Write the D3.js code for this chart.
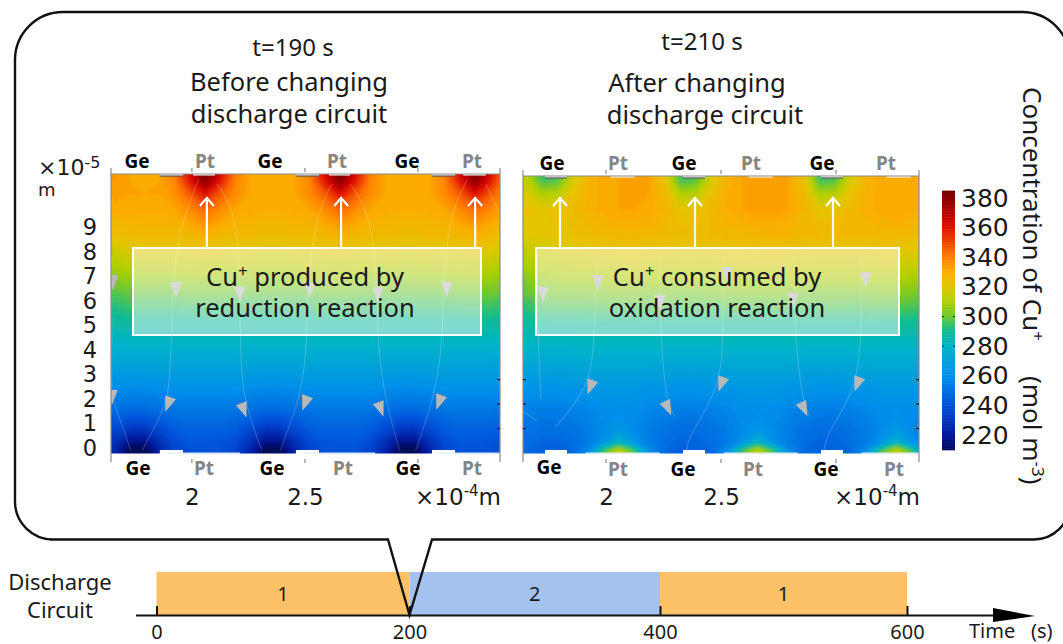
<!DOCTYPE html>
<html>
<head>
<meta charset="utf-8">
<script src="https://cdn.jsdelivr.net/npm/d3@7"></script>
<style>
  body { margin: 0; background: #fff; }
  text { fill: #1a1a1a; }
</style>
</head>
<body>
<script>
// concentration, mol m-3, one row per depth, 27 columns
const rowDepth = [11.55, 11.06, 10.57, 9.92, 8.9, 7.67, 6.45, 5.22, 4, 2.78, 1.76, 1.02, 0.45, 0.12, -0.12]

const leftField = [
  [334,332,331,332,339,365,385,365,340,332,330,330,332,340,365,385,365,340,332,330,330,332,340,365,385,365,340],
  [334,332,331,332,338,358,378,358,338,332,331,331,332,338,358,378,358,338,332,331,331,332,338,358,378,358,338],
  [333,332,332,332,336,346,360,346,337,332,331,331,332,337,346,360,346,337,332,331,331,332,337,346,360,346,337],
  [331,331,331,331,332,337,343,337,332,331,330,330,331,332,337,343,337,332,331,330,330,331,332,337,343,337,332],
  [324,325,326,326,326,327,329,327,326,326,325,325,326,326,327,329,327,326,326,325,325,326,326,327,329,327,324],
  [310,312,313,313,313,313,314,313,313,313,312,312,313,313,313,314,313,313,313,312,312,313,313,313,314,313,310],
  [296,298,298,298,298,299,299,299,298,298,298,298,298,298,299,299,299,298,298,298,298,298,298,299,299,299,297],
  [286,287,287,287,287,287,287,287,287,287,287,287,287,287,287,287,287,287,287,287,287,287,287,287,287,287,286],
  [275,275,275,275,275,275,275,275,275,275,275,275,275,275,275,275,275,275,275,275,275,275,275,275,275,275,275],
  [261,260,260,261,262,262,262,262,262,261,260,260,261,262,262,262,262,262,261,260,260,261,262,262,262,262,261],
  [249,248,248,250,251,252,252,252,251,249,248,248,249,251,252,252,252,251,249,248,248,249,251,252,252,252,250],
  [238,232,232,238,244,246,246,246,244,238,232,232,238,244,246,246,246,244,238,232,232,238,244,246,246,246,244],
  [228,216,216,228,238,242,242,241,238,228,216,216,228,238,241,242,242,238,228,216,216,228,238,242,242,241,240],
  [224,208,208,224,236,240,240,240,236,224,208,208,224,236,240,240,240,236,224,208,208,224,236,240,240,240,238],
  [224,208,208,224,236,240,240,240,236,224,208,208,224,236,240,240,240,236,224,208,208,224,236,240,240,240,238]
]

const rightField = [
  [312,290,292,316,327,331,332,333,332,322,290,293,318,328,332,333,333,332,323,290,292,317,328,331,332,331,330],
  [314,296,298,318,328,331,332,333,332,323,296,299,319,329,332,333,333,332,324,296,298,318,328,331,332,331,330],
  [319,310,312,322,329,331,332,333,332,326,310,312,323,330,332,333,333,332,326,310,312,322,329,331,332,331,330],
  [323,322,323,326,329,331,332,332,331,328,322,323,327,330,332,333,333,332,328,322,323,326,329,331,332,331,329],
  [320,321,322,323,325,326,327,327,327,326,325,325,326,327,327,328,328,328,327,326,326,326,326,327,327,326,324],
  [309,311,313,314,315,315,316,316,315,315,315,315,315,316,316,316,316,316,315,315,315,315,315,316,316,315,312],
  [298,300,301,301,301,302,302,302,301,301,301,301,301,302,302,302,302,302,301,301,301,301,301,302,302,301,299],
  [287,288,288,288,288,288,288,288,288,288,288,288,288,288,288,288,288,288,288,288,288,288,288,288,288,288,288],
  [276,276,276,276,277,277,277,277,277,276,276,276,276,277,277,277,277,277,276,276,276,276,277,277,277,277,276],
  [263,263,263,264,264,265,265,265,264,264,263,263,264,264,265,265,265,264,264,263,263,264,264,265,265,265,264],
  [255,254,254,255,257,259,260,259,257,255,254,254,255,257,259,260,259,257,255,254,254,255,257,259,260,259,257],
  [251,250,250,251,254,258,263,258,254,251,249,249,251,254,258,263,258,254,251,249,249,251,254,258,263,258,254],
  [249,247,247,249,253,262,280,262,253,249,247,247,249,253,262,280,262,253,249,247,247,249,253,262,280,262,253],
  [248,245,245,248,258,292,312,292,258,248,245,245,248,258,292,312,292,258,248,245,245,248,258,292,312,292,258],
  [248,245,245,248,258,300,318,300,258,248,245,245,248,258,300,318,300,258,248,245,245,248,258,300,318,300,258]
]

// colour ramp of the bar
const rampValues = [205, 220, 240, 260, 280, 290, 300, 310, 320, 330, 340, 360, 370, 385]
const rampColors = ['#00003c', '#001a9e', '#0050d8', '#0090ea', '#00b4c8', '#10bc90', '#70c830', '#b0d000', '#e0c800', '#fab000', '#ff7c00', '#e01000', '#b80000', '#6e0000']
const barTicks = [220, 240, 260, 280, 300, 320, 340, 360, 380]

// streamlines and arrow heads, in axis units
const leftStreams = [
  [[1.645, 8], [1.645, 2.5]],
  [[1.65, 2.2], [1.73, 0.1]],
  [[2.03, 11.2], [1.98, 10], [1.92, 8.2], [1.91, 4.7], [1.9, 2.9], [1.89, 2], [1.78, 0.1]],
  [[2.11, 11], [2.2, 9.8], [2.21, 6.8], [2.215, 4.7], [2.22, 2.3], [2.31, 0.1]],
  [[2.62, 11], [2.55, 9.8], [2.51, 6.8], [2.51, 4.7], [2.49, 2.5], [2.39, 0.1]],
  [[2.7, 11], [2.79, 9.8], [2.82, 6.8], [2.82, 4.7], [2.85, 2.3], [2.92, 0.1]],
  [[3.22, 11.2], [3.14, 9.8], [3.11, 6.8], [3.11, 4.7], [3.08, 2.5], [2.99, 0.1]],
  [[3.3, 11], [3.36, 9.8]]
]
const leftHeads = [
  [1.646, 2.37, 180], [1.898, 2.08, 200], [2.226, 1.84, 160], [2.504, 2.12, 200], [2.832, 1.88, 160], [3.097, 2.16, 200],
  [1.65, 7.06, 180], [1.93, 6.78, 180], [2.212, 6.57, 180], [2.522, 6.78, 180], [2.823, 6.57, 180], [3.128, 6.78, 180]
]
const rightStreams = [
  [[1.7, 8], [1.704, 4.7], [1.717, 2.2]],
  [[1.64, 1.7], [1.7, 1.3]],
  [[1.96, 8], [1.95, 4.7], [1.93, 2.7], [1.78, 1.06]],
  [[2.235, 8], [2.235, 4.7], [2.265, 2], [2.3, 1.5]],
  [[2.51, 8], [2.51, 4.7], [2.495, 2.6], [2.35, 0.55], [2.35, 0]],
  [[2.82, 8], [2.82, 4.7], [2.857, 2], [2.887, 1.5]],
  [[3.11, 8], [3.11, 4.7], [3.09, 2.6], [2.95, 0.65], [2.95, 0]]
]
const rightHeads = [
  [1.935, 2.78, 200], [2.265, 1.92, 155], [2.504, 2.9, 200], [2.857, 1.88, 155], [3.096, 2.9, 200],
  [1.726, 6.57, 180], [1.965, 7.06, 180], [2.235, 6.24, 180], [2.526, 7.39, 180], [2.813, 6.33, 180], [3.13, 7.18, 180]
]

const yTicks = [0, 1, 2, 3, 4, 5, 6, 7, 8, 9]
const xTicks = [2, 2.5, 3]
const xTickLabels = ['2', '2.5', '']

// discharge timeline
const timeTicks = [0, 200, 400, 600]
const circuitStart = [0, 200, 400]
const circuitEnd = [200, 400, 600]
const circuitName = ['1', '2', '1']
const circuitColor = ['#fdc268', '#a4c2f0', '#fdc268']

const sans = '"Noto Sans", "Open Sans", sans-serif'
const plain = '"DejaVu Sans", sans-serif'

const svg = d3.select('body').append('svg')
  .attr('width', 1063)
  .attr('height', 644)
  .style('display', 'block')

const defs = svg.append('defs')
defs.append('filter').attr('id', 'soft')
  .attr('x', '-5%').attr('y', '-5%').attr('width', '110%').attr('height', '110%')
  .append('feGaussianBlur').attr('stdDeviation', 1.6)

const color = d3.scaleLinear().domain(rampValues).range(rampColors).clamp(true)

const drawPanel = (p) => {
  const x = d3.scaleLinear().domain(p.xDomain).range([p.left, p.right])
  const y = d3.scaleLinear().domain([0, 11.4]).range([453, 174])

  const clipId = 'clip-' + p.name
  defs.append('clipPath').attr('id', clipId)
    .append('rect')
      .attr('x', p.left).attr('y', p.top)
      .attr('width', p.right - p.left).attr('height', 453.5 - p.top)

  const cols = p.field[0].length
  const gx = d3.scaleLinear().domain([0, cols]).range([p.gridLeft, p.gridLeft + cols * p.gridStep])
  const gy = d3.scaleLinear()
    .domain(rowDepth.map((d, j) => j + 0.5))
    .range(rowDepth.map(d => y(d)))

  const path = d3.geoPath(d3.geoTransform({
    point(a, b) { this.stream.point(gx(a), gy(b)) }
  }))

  const bands = d3.contours()
    .size([cols, rowDepth.length])
    .thresholds(d3.range(200, 388, 2))(p.field.flat())

  const map = svg.append('g').attr('clip-path', `url(#${clipId})`)
  const field = map.append('g').attr('filter', 'url(#soft)')
  field.selectAll('path')
    .data(bands)
    .join('path')
      .attr('d', path)
      .attr('fill', d => color(d.value + 1))
      .attr('stroke', d => color(d.value + 1))
      .attr('stroke-width', 0.6)

  // streamlines
  const line = d3.line().x(d => x(d[0])).y(d => y(d[1])).curve(d3.curveBasis)
  map.append('g').selectAll('path')
    .data(p.streams)
    .join('path')
      .attr('d', line)
      .attr('fill', 'none')
      .attr('stroke', '#fff')
      .attr('stroke-opacity', 0.18)
      .attr('stroke-width', 1.2)

  const head = d3.symbol(d3.symbolTriangle, 80)
  map.append('g').selectAll('path')
    .data(p.heads)
    .join('path')
      .attr('d', head)
      .attr('transform', d => `translate(${x(d[0])},${y(d[1])}) rotate(${d[2]}) scale(0.85,1.3)`)
      .attr('fill', '#b9b9b9')

  // electrodes along both edges
  p.geTop.forEach(g => {
    svg.append('rect').attr('x', x(g[0])).attr('y', p.top - 1).attr('width', x(g[1]) - x(g[0])).attr('height', 3).attr('fill', '#fff')
    svg.append('line').attr('x1', x(g[0])).attr('x2', x(g[1])).attr('y1', p.top + 2).attr('y2', p.top + 2).attr('stroke', '#555').attr('stroke-width', 1.2)
  })
  svg.selectAll(null)
    .data(p.ptTop)
    .join('rect')
      .attr('x', d => x(d[0])).attr('y', p.top).attr('width', d => x(d[1]) - x(d[0])).attr('height', 1.5)
      .attr('fill', '#fff')
  svg.selectAll(null)
    .data(p.geTop)
    .join('rect')
      .attr('x', d => x(d[0])).attr('y', 450).attr('width', d => x(d[1]) - x(d[0])).attr('height', 4)
      .attr('fill', '#fff')
  svg.selectAll(null)
    .data(p.ptTop)
    .join('rect')
      .attr('x', d => x(d[0]) - 25).attr('y', 452.5)
      .attr('width', d => Math.min(x(d[1]) + 25, p.right) - x(d[0]) + 25).attr('height', 1.3)
      .attr('fill', '#e9eefc')

  // frame
  const frame = svg.append('g').attr('fill', 'none').attr('stroke', '#8a8a8a').attr('stroke-width', 1.2)
  frame.append('line').attr('x1', p.left).attr('x2', p.right).attr('y1', p.top).attr('y2', p.top)
  frame.append('line').attr('x1', p.left).attr('x2', p.left).attr('y1', p.top - 6).attr('y2', 462)
  frame.append('line').attr('x1', p.right).attr('x2', p.right).attr('y1', p.top - 6).attr('y2', 462)
  frame.selectAll('.tt').data(xTicks).join('line').attr('class', 'tt')
    .attr('x1', d => x(d)).attr('x2', d => x(d)).attr('y1', p.top - 6).attr('y2', p.top - 2)
  frame.selectAll('.tb').data(xTicks).join('line').attr('class', 'tb')
    .attr('x1', d => x(d)).attr('x2', d => x(d)).attr('y1', 459).attr('y2', 463)

  // small ticks near the bottom of the map
  p.tickEdges.forEach(edge => {
    svg.append('g').selectAll('line')
      .data([1, 2, 3])
      .join('line')
        .attr('x1', edge === 'l' ? p.left : p.right - 3)
        .attr('x2', edge === 'l' ? p.left + 3 : p.right)
        .attr('y1', d => y(d)).attr('y2', d => y(d))
        .attr('stroke', '#222').attr('stroke-width', 1.3)
  })

  // x axis labels
  const xAxis = d3.axisBottom(x).tickValues(xTicks).tickSize(0).tickFormat((d, i) => xTickLabels[i])
  const xg = svg.append('g').attr('transform', 'translate(0,486)').call(xAxis)
  xg.select('.domain').remove()
  xg.selectAll('text').attr('font-family', plain).attr('font-size', 23).attr('fill', '#333')

  svg.append('text')
    .attr('x', p.right + 1).attr('y', 505)
    .attr('text-anchor', 'end')
    .attr('font-family', plain).attr('font-size', 23).attr('fill', '#333')
    .html('×10<tspan dy="-9" font-size="15">-4</tspan><tspan dy="9">m</tspan>')

  // Ge / Pt
  p.labels.forEach(l => {
    svg.append('text')
      .attr('x', l[1]).attr('y', l[2])
      .attr('text-anchor', 'middle')
      .attr('font-family', sans).attr('font-weight', 'bold').attr('font-size', 19)
      .style('fill', l[0] === 'Ge' ? '#000' : '#858585')
      .text(l[0])
  })

  // arrows up to the electrodes
  p.upArrows.forEach(a => {
    const ax = x(a)
    svg.append('path')
      .attr('d', `M${ax},248V199M${ax - 7},206L${ax},198L${ax + 7},206`)
      .attr('fill', 'none').attr('stroke', '#fff').attr('stroke-width', 2.2)
  })

  // note box
  svg.append('rect')
    .attr('x', p.box[0]).attr('y', 248).attr('width', p.box[1] - p.box[0]).attr('height', 87)
    .attr('fill', '#fff').attr('fill-opacity', 0.48)
    .attr('stroke', '#fff').attr('stroke-width', 2)
  svg.append('text').attr('x', p.noteX).attr('y', 286)
    .attr('text-anchor', 'middle').attr('font-family', sans).attr('font-size', 25.5)
    .html(`Cu<tspan dy="-9" font-size="17">+</tspan><tspan dy="9"> ${p.note[0]}</tspan>`)
  svg.append('text').attr('x', p.noteX).attr('y', 317)
    .attr('text-anchor', 'middle').attr('font-family', sans).attr('font-size', 25.5)
    .text(p.note[1])

  // titles
  p.titles.forEach(t => {
    svg.append('text').attr('x', t[1]).attr('y', t[2])
      .attr('text-anchor', 'middle').attr('font-family', sans).attr('font-size', t[3])
      .text(t[0])
  })
}

drawPanel({
  name: 'left',
  field: leftField,
  streams: leftStreams,
  heads: leftHeads,
  xDomain: [1.642, 3.363],
  left: 111, right: 500, top: 174,
  gridLeft: 107.5, gridStep: 15,
  geTop: [[1.858, 1.96], [2.46, 2.562], [3.062, 3.164]],
  ptTop: [[2.005, 2.102], [2.606, 2.7], [3.2, 3.3]],
  tickEdges: ['r'],
  upArrows: [2.066, 2.66, 3.253],
  box: [133, 481],
  noteX: 305,
  note: ['produced by', 'reduction reaction'],
  titles: [['t=190 s', 293, 56, 24], ['Before changing', 289, 91, 25.5], ['discharge circuit', 289, 123, 25.5]],
  labels: [['Ge', 137, 168], ['Pt', 205, 168], ['Ge', 270, 168], ['Pt', 337, 168], ['Ge', 407, 168], ['Pt', 472, 168],
           ['Ge', 138, 475], ['Pt', 204, 475], ['Ge', 272, 475], ['Pt', 343, 475], ['Ge', 408, 475], ['Pt', 472, 475]]
})

drawPanel({
  name: 'right',
  field: rightField,
  streams: rightStreams,
  heads: rightHeads,
  xDomain: [1.639, 3.361],
  left: 523, right: 919, top: 176,
  gridLeft: 519, gridStep: 15.4,
  geTop: [[1.735, 1.83], [2.335, 2.43], [2.935, 3.03]],
  ptTop: [[2.02, 2.125], [2.62, 2.725], [3.22, 3.325]],
  tickEdges: ['l', 'r'],
  upArrows: [1.8, 2.387, 2.987],
  box: [536, 899],
  noteX: 717,
  note: ['consumed by', 'oxidation reaction'],
  titles: [['t=210 s', 702, 50, 24], ['After changing', 697, 92, 25.5], ['discharge circuit', 705, 124, 25.5]],
  labels: [['Ge', 552, 170], ['Pt', 618, 170], ['Ge', 684, 170], ['Pt', 751, 170], ['Ge', 822, 170], ['Pt', 886, 170],
           ['Ge', 549, 474], ['Pt', 618, 476], ['Ge', 683, 476], ['Pt', 753, 476], ['Ge', 826, 476], ['Pt', 894, 476]]
})

// y axis of the left map, labels sit a little above their ticks
const yLeft = d3.scaleLinear().domain([0, 11.4]).range([453, 174])
const yg = svg.append('g').attr('transform', 'translate(104,-5)')
  .call(d3.axisLeft(yLeft).tickValues(yTicks).tickSize(0).tickPadding(7))
yg.select('.domain').remove()
yg.selectAll('text').attr('font-family', plain).attr('font-size', 22.5).attr('fill', '#333')

svg.append('text').attr('x', 38).attr('y', 175)
  .attr('font-family', plain).attr('font-size', 22).attr('fill', '#333')
  .html('×10<tspan dy="-7" font-size="16">-5</tspan>')
svg.append('text').attr('x', 38).attr('y', 196)
  .attr('font-family', plain).attr('font-size', 18).attr('fill', '#333')
  .text('m')

// colour bar
const barY = d3.scaleLinear().domain([220, 380]).range([435, 198])
svg.append('g').selectAll('rect')
  .data(d3.range(210, 385, 1))
  .join('rect')
    .attr('x', 942).attr('width', 13)
    .attr('y', d => barY(d + 1))
    .attr('height', d => barY(d) - barY(d + 1) + 0.5)
    .attr('fill', d => color(d))
const barAxis = svg.append('g').attr('transform', 'translate(955,0)')
  .call(d3.axisRight(barY).tickValues(barTicks).tickSize(0).tickPadding(6))
barAxis.select('.domain').remove()
barAxis.selectAll('text').attr('font-family', plain).attr('font-size', 25).attr('fill', '#333')
svg.append('g').selectAll('line')
  .data([220, 280, 300].flatMap(d => [[d, 942], [d, 953]]))
  .join('line')
    .attr('x1', d => d[1]).attr('x2', d => d[1] + 2)
    .attr('y1', d => barY(d[0])).attr('y2', d => barY(d[0]))
    .attr('stroke', '#222')

svg.append('text')
  .attr('transform', 'translate(1023,87) rotate(90)')
  .attr('font-family', sans).attr('font-size', 26)
  .html('Concentration of Cu<tspan dy="-9" font-size="17">+</tspan><tspan dy="9" dx="35">(mol m</tspan><tspan dy="-9" font-size="17">-3</tspan><tspan dy="9">)</tspan>')

// timeline
const timeX = d3.scaleLinear().domain(timeTicks).range([156.5, 409.5, 660, 907])
svg.append('g').selectAll('rect')
  .data(circuitStart)
  .join('rect')
    .attr('x', d => timeX(d))
    .attr('y', 572)
    .attr('width', (d, i) => timeX(circuitEnd[i]) - timeX(d))
    .attr('height', 44)
    .attr('fill', (d, i) => circuitColor[i])
svg.append('g').selectAll('text')
  .data(circuitStart)
  .join('text')
    .attr('x', (d, i) => (timeX(d) + timeX(circuitEnd[i])) / 2)
    .attr('y', 601)
    .attr('text-anchor', 'middle')
    .attr('font-family', sans).attr('font-size', 20)
    .text((d, i) => circuitName[i])

const tAxis = svg.append('g').attr('transform', 'translate(0,616)')
  .call(d3.axisBottom(timeX).tickValues(timeTicks).tickFormat(d3.format('d')).tickSizeInner(-10).tickSizeOuter(0).tickPadding(9))
tAxis.select('.domain').remove()
tAxis.selectAll('line').attr('stroke', '#111').attr('stroke-width', 2)
tAxis.selectAll('text').attr('font-family', sans).attr('font-size', 20).attr('fill', '#1a1a1a')

svg.append('line').attr('x1', 136).attr('x2', 1000).attr('y1', 615.5).attr('y2', 615.5)
  .attr('stroke', '#111').attr('stroke-width', 2.2)
svg.append('path').attr('d', 'M993,608L1035,616L993,622Z').attr('fill', '#000')

svg.append('text').attr('y', 638).attr('font-family', sans).attr('font-size', 20)
  .html('<tspan x="969">Time</tspan><tspan x="1031">(s)</tspan>')
svg.append('text').attr('x', 60).attr('y', 590).attr('text-anchor', 'middle').attr('font-family', sans).attr('font-size', 22).text('Discharge')
svg.append('text').attr('x', 60).attr('y', 618).attr('text-anchor', 'middle').attr('font-family', sans).attr('font-size', 22).text('Circuit')

// callout round the two maps, its pointer lands on t=200
const callout = d3.path()
callout.moveTo(388, 539.5)
callout.lineTo(50, 539.5)
callout.arcTo(15, 539.5, 15, 500, 38)
callout.lineTo(15, 60)
callout.arcTo(15, 12, 65, 12, 48)
callout.lineTo(1020, 12)
callout.arcTo(1070, 12, 1070, 60, 48)
callout.lineTo(1070, 505)
callout.arcTo(1070, 539.5, 1035, 539.5, 36)
callout.lineTo(432, 539.5)
callout.lineTo(timeX(200), 615)
callout.closePath()
svg.append('path')
  .attr('d', callout.toString())
  .attr('fill', 'none')
  .attr('stroke', '#111')
  .attr('stroke-width', 2.4)
  .attr('stroke-linejoin', 'miter')
</script>
</body>
</html>
